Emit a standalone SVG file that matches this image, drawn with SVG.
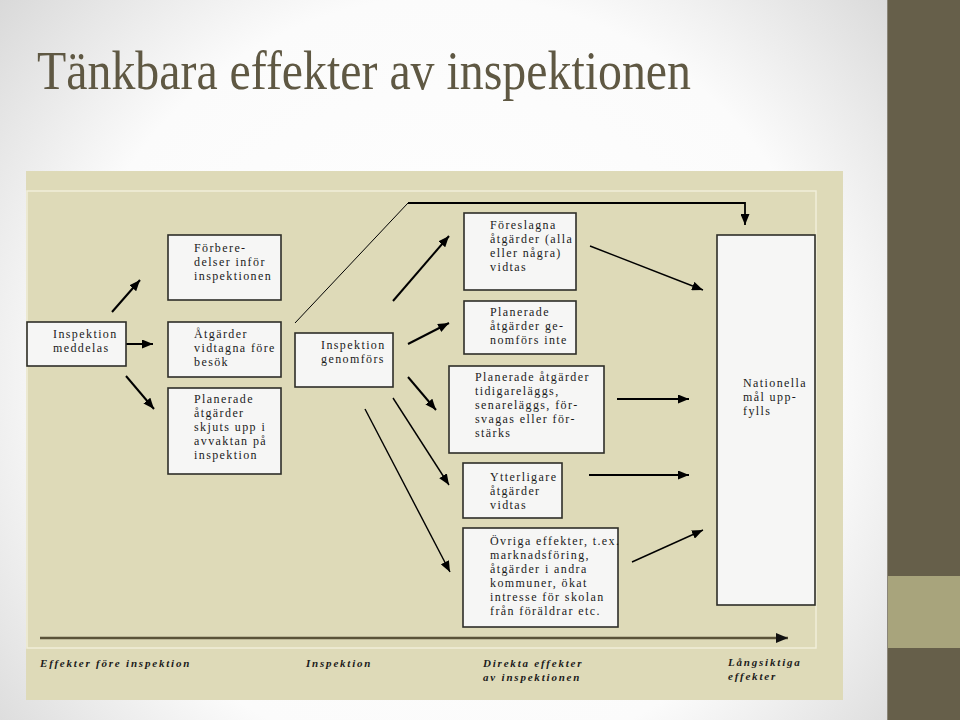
<svg xmlns="http://www.w3.org/2000/svg" width="960" height="720" viewBox="0 0 960 720">
<defs>
<radialGradient id="bg" cx="450" cy="380" r="620" gradientUnits="userSpaceOnUse">
<stop offset="0" stop-color="#ffffff"/>
<stop offset="0.62" stop-color="#fbfbfb"/>
<stop offset="1" stop-color="#d4d4d4"/>
</radialGradient>
<marker id="ah" markerWidth="11" markerHeight="9" refX="11" refY="4.5" orient="auto" markerUnits="userSpaceOnUse">
<path d="M0,0 L11,4.5 L0,9 z" fill="#000"/>
</marker>
<marker id="ah2" markerWidth="12" markerHeight="10" refX="12" refY="5" orient="auto" markerUnits="userSpaceOnUse">
<path d="M0,0 L12,5 L0,10 z" fill="#111"/>
</marker>
</defs>
<style>
.box{fill:#f6f6f5;stroke:#2e2e28;stroke-width:1.6}
.t{font-family:"Liberation Serif","Times New Roman",serif;font-size:12px;letter-spacing:1.4px;fill:#1b1b1b}
.b{font-family:"Liberation Serif","Times New Roman",serif;font-size:11px;font-weight:bold;font-style:italic;letter-spacing:1.8px;fill:#1b1b1b}
.c{fill:none;stroke:#000;stroke-width:2;marker-end:url(#ah)}
.c1{fill:none;stroke:#000;stroke-width:1.4;marker-end:url(#ah)}
</style>
<rect x="0" y="0" width="960" height="720" fill="url(#bg)"/>
<rect x="888" y="0" width="72" height="720" fill="#665f4a"/>
<rect x="888" y="576" width="72" height="72" fill="#a8a47c"/>
<line x1="887.5" y1="0" x2="887.5" y2="720" stroke="#8a8578" stroke-width="1"/>
<text x="37" y="89" font-family="Liberation Serif, Times New Roman, serif" font-size="54" fill="#5f5843" textLength="654" lengthAdjust="spacingAndGlyphs">Tänkbara effekter av inspektionen</text>
<rect x="26" y="171" width="817" height="529" fill="#dedab8"/>
<rect x="27" y="191" width="789" height="457" fill="none" stroke="#f1eed9" stroke-width="1.5"/>

<g id="connectors">
<line class="c" x1="112" y1="312" x2="140" y2="280"/>
<line class="c" x1="126" y1="344" x2="153" y2="344"/>
<line class="c" x1="126" y1="376" x2="154" y2="409"/>
<line x1="295" y1="323" x2="408" y2="203" stroke="#000" stroke-width="1"/>
<path d="M408,203 H745 V225" fill="none" stroke="#000" stroke-width="1.8" marker-end="url(#ah)"/>
<line class="c" x1="393" y1="301" x2="449" y2="236"/>
<line class="c" x1="408" y1="344" x2="449" y2="323"/>
<line class="c" x1="408" y1="377" x2="436" y2="410"/>
<line class="c1" x1="393" y1="398" x2="449" y2="485"/>
<line class="c1" x1="365" y1="409" x2="450" y2="572"/>
<line class="c1" x1="590" y1="246" x2="703" y2="290"/>
<line class="c" x1="617" y1="399" x2="689" y2="399"/>
<line class="c" x1="589" y1="475" x2="689" y2="475"/>
<line class="c1" x1="632" y1="562" x2="703" y2="530"/>
<line x1="40" y1="638" x2="788" y2="638" stroke="#5a5238" stroke-width="2.5" marker-end="url(#ah2)"/>
</g>

<g id="n-meddelas">
<rect class="box" x="27" y="322" width="99" height="44"/>
<text class="t" x="53" y="338">Inspektion</text>
<text class="t" x="53" y="352">meddelas</text>
</g>
<g id="n-forberedelser">
<rect class="box" x="168" y="235" width="113" height="65"/>
<text class="t" x="194" y="252">Förbere-</text>
<text class="t" x="194" y="266">delser inför</text>
<text class="t" x="194" y="280">inspektionen</text>
</g>
<g id="n-atgarder-fore">
<rect class="box" x="168" y="322" width="113" height="55"/>
<text class="t" x="194" y="338">Åtgärder</text>
<text class="t" x="194" y="352">vidtagna före</text>
<text class="t" x="194" y="366">besök</text>
</g>
<g id="n-skjuts-upp">
<rect class="box" x="168" y="388" width="113" height="86"/>
<text class="t" x="194" y="403">Planerade</text>
<text class="t" x="194" y="417">åtgärder</text>
<text class="t" x="194" y="431">skjuts upp i</text>
<text class="t" x="194" y="445">avvaktan på</text>
<text class="t" x="194" y="459">inspektion</text>
</g>
<g id="n-genomfors">
<rect class="box" x="295" y="333" width="98" height="54"/>
<text class="t" x="321" y="349">Inspektion</text>
<text class="t" x="321" y="363">genomförs</text>
</g>
<g id="n-foreslagna">
<rect class="box" x="464" y="213" width="112" height="77"/>
<text class="t" x="490" y="229">Föreslagna</text>
<text class="t" x="490" y="243">åtgärder (alla</text>
<text class="t" x="490" y="257">eller några)</text>
<text class="t" x="490" y="271">vidtas</text>
</g>
<g id="n-genomfors-inte">
<rect class="box" x="464" y="301" width="112" height="53"/>
<text class="t" x="490" y="316">Planerade</text>
<text class="t" x="490" y="330">åtgärder ge-</text>
<text class="t" x="490" y="344">nomförs inte</text>
</g>
<g id="n-tidigarelaggs">
<rect class="box" x="449" y="366" width="155" height="87"/>
<text class="t" x="475" y="381">Planerade åtgärder</text>
<text class="t" x="475" y="395">tidigareläggs,</text>
<text class="t" x="475" y="409">senareläggs, för-</text>
<text class="t" x="475" y="423">svagas eller för-</text>
<text class="t" x="475" y="437">stärks</text>
</g>
<g id="n-ytterligare">
<rect class="box" x="463" y="463" width="99" height="55"/>
<text class="t" x="490" y="481">Ytterligare</text>
<text class="t" x="490" y="495">åtgärder</text>
<text class="t" x="490" y="509">vidtas</text>
</g>
<g id="n-ovriga">
<rect class="box" x="463" y="528" width="155" height="99"/>
<text class="t" x="490" y="545">Övriga effekter, t.ex.</text>
<text class="t" x="490" y="559">marknadsföring,</text>
<text class="t" x="490" y="573">åtgärder i andra</text>
<text class="t" x="490" y="587">kommuner, ökat</text>
<text class="t" x="490" y="601">intresse för skolan</text>
<text class="t" x="490" y="615">från  föräldrar etc.</text>
</g>
<g id="n-nationella">
<rect class="box" x="717" y="235" width="98" height="370"/>
<text class="t" x="743" y="387">Nationella</text>
<text class="t" x="743" y="401">mål upp-</text>
<text class="t" x="743" y="415">fylls</text>
</g>

<g id="labels">
<text class="b" x="40" y="667">Effekter före inspektion</text>
<text class="b" x="306" y="667">Inspektion</text>
<text class="b" x="483" y="667">Direkta effekter</text>
<text class="b" x="483" y="681">av inspektionen</text>
<text class="b" x="728" y="666">Långsiktiga</text>
<text class="b" x="728" y="680">effekter</text>
</g>
</svg>
